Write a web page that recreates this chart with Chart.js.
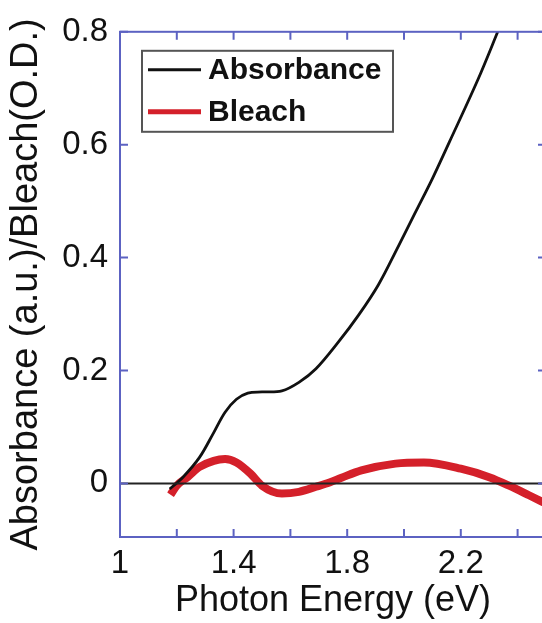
<!DOCTYPE html>
<html>
<head>
<meta charset="utf-8">
<script src="https://cdn.jsdelivr.net/npm/chart.js@4.4.1/dist/chart.umd.min.js"></script>
<style>
  html, body { margin: 0; padding: 0; background: #fff; overflow: hidden; }
  #wrap { width: 542px; height: 623px; overflow: hidden; }
</style>
</head>
<body>
<div id="wrap"><canvas id="myChart" width="548" height="623"></canvas></div>
<script>
// data
const absX = [1.175, 1.22, 1.28, 1.33, 1.37, 1.41, 1.45, 1.5, 1.57, 1.63, 1.69, 1.77, 1.84, 1.91, 1.98, 2.04, 2.1, 2.16, 2.26, 2.33, 2.37];
const absY = [-0.01, 0.01, 0.046, 0.09, 0.126, 0.149, 0.16, 0.162, 0.164, 0.179, 0.203, 0.251, 0.298, 0.352, 0.42, 0.48, 0.54, 0.605, 0.715, 0.8, 0.85];

const bleachX = [1.178, 1.2, 1.24, 1.28, 1.33, 1.37, 1.41, 1.46, 1.5, 1.57, 1.63, 1.69, 1.74, 1.78, 1.85, 1.97, 2.07, 2.2, 2.3, 2.37, 2.44, 2.5];
const bleachY = [-0.02, -0.004, 0.012, 0.029, 0.04, 0.043, 0.037, 0.017, -0.004, -0.018, -0.015, -0.006, 0.002, 0.01, 0.023, 0.035, 0.037, 0.026, 0.011, -0.004, -0.021, -0.036];

const zeroX = [1, 2.5];
const zeroY = [0, 0];

const xLabels = [1, 1.4, 1.8, 2.2];
const yLabels = [0, 0.2, 0.4, 0.6, 0.8];
const minorX = [1, 1.2, 1.4, 1.6, 1.8, 2.0, 2.2, 2.4];
const minorY = [0, 0.2, 0.4, 0.6, 0.8];

const axisColor = "#5c62c2";
const fontFam = "'Liberation Sans', Arial, sans-serif";

const pts = (xs, ys) => xs.map((x, i) => ({ x: x, y: ys[i] }));

// frame, inward ticks and legend box
const framePlugin = {
  id: "frame",
  afterDatasetsDraw(chart) {
    const { ctx, chartArea: a, scales } = chart;
    ctx.save();
    ctx.strokeStyle = axisColor;
    ctx.lineWidth = 2;
    ctx.strokeRect(a.left, a.top, a.right - a.left, a.bottom - a.top);
    const tl = 8;
    ctx.beginPath();
    minorX.forEach((v) => {
      const px = scales.x.getPixelForValue(v);
      ctx.moveTo(px, a.bottom); ctx.lineTo(px, a.bottom - tl);
      ctx.moveTo(px, a.top); ctx.lineTo(px, a.top + tl);
    });
    minorY.forEach((v) => {
      const py = scales.y.getPixelForValue(v);
      ctx.moveTo(a.left, py); ctx.lineTo(a.left + tl, py);
      ctx.moveTo(a.right, py); ctx.lineTo(a.right - tl, py);
    });
    ctx.stroke();

    // legend
    const bx = a.left + 22, by = a.top + 19, bw = 251, bh = 81;
    ctx.fillStyle = "#fff";
    ctx.fillRect(bx, by, bw, bh);
    ctx.strokeStyle = "#555";
    ctx.lineWidth = 2;
    ctx.strokeRect(bx, by, bw, bh);
    const items = chart.data.datasets.filter((d) => d.label);
    items.forEach((d, i) => {
      const ly = by + 19 + i * 42;
      ctx.strokeStyle = d.borderColor;
      ctx.lineWidth = i === 0 ? 3 : 5;
      ctx.beginPath();
      ctx.moveTo(bx + 6, ly);
      ctx.lineTo(bx + 59, ly);
      ctx.stroke();
      ctx.fillStyle = "#111";
      ctx.font = "bold 30px " + fontFam;
      ctx.textBaseline = "middle";
      ctx.textAlign = "left";
      ctx.fillText(d.label, bx + 66, ly + 1);
    });
    ctx.restore();
  },
};

new Chart(document.getElementById("myChart"), {
  type: "line",
  data: {
    datasets: [
      {
        label: "",
        data: pts(zeroX, zeroY),
        borderColor: "#222",
        borderWidth: 2,
        pointRadius: 0,
        order: 0,
      },
      {
        label: "Absorbance",
        data: pts(absX, absY),
        borderColor: "#111",
        borderWidth: 2.8,
        pointRadius: 0,
        tension: 0.35,
        order: 1,
      },
      {
        label: "Bleach",
        data: pts(bleachX, bleachY),
        borderColor: "#d4202a",
        borderWidth: 8,
        pointRadius: 0,
        cubicInterpolationMode: "monotone",
        order: 2,
      },
    ],
  },
  options: {
    responsive: false,
    animation: false,
    devicePixelRatio: 1,
    layout: { padding: { top: 28, right: 2, left: 0, bottom: 0 } },
    plugins: { legend: { display: false }, tooltip: { enabled: false } },
    scales: {
      x: {
        type: "linear",
        min: 1,
        max: 2.5,
        afterBuildTicks: (s) => { s.ticks = xLabels.map((v) => ({ value: v })); },
        afterFit: (s) => { s.height = 86; },
        ticks: {
          padding: 7,
          color: "#111",
          font: { family: fontFam, size: 33 },
          callback: (v) => String(v),
        },
        grid: { display: false, drawTicks: false },
        border: { display: false },
        title: {
          display: true,
          text: "Photon Energy (eV)",
          color: "#111",
          font: { family: fontFam, size: 36 },
          padding: { top: 0, bottom: 0 },
        },
      },
      y: {
        type: "linear",
        min: -0.095,
        max: 0.8,
        afterBuildTicks: (s) => { s.ticks = yLabels.map((v) => ({ value: v })); },
        afterFit: (s) => { s.width = 120; },
        ticks: {
          padding: 12,
          color: "#111",
          font: { family: fontFam, size: 33 },
          callback: (v) => String(v),
        },
        grid: { display: false, drawTicks: false },
        border: { display: false },
        title: {
          display: true,
          text: "Absorbance (a.u.)/Bleach(O.D.)",
          color: "#111",
          font: { family: fontFam, size: 38 },
          padding: { top: 4, bottom: 0 },
        },
      },
    },
  },
  plugins: [framePlugin],
});
</script>
</body>
</html>
